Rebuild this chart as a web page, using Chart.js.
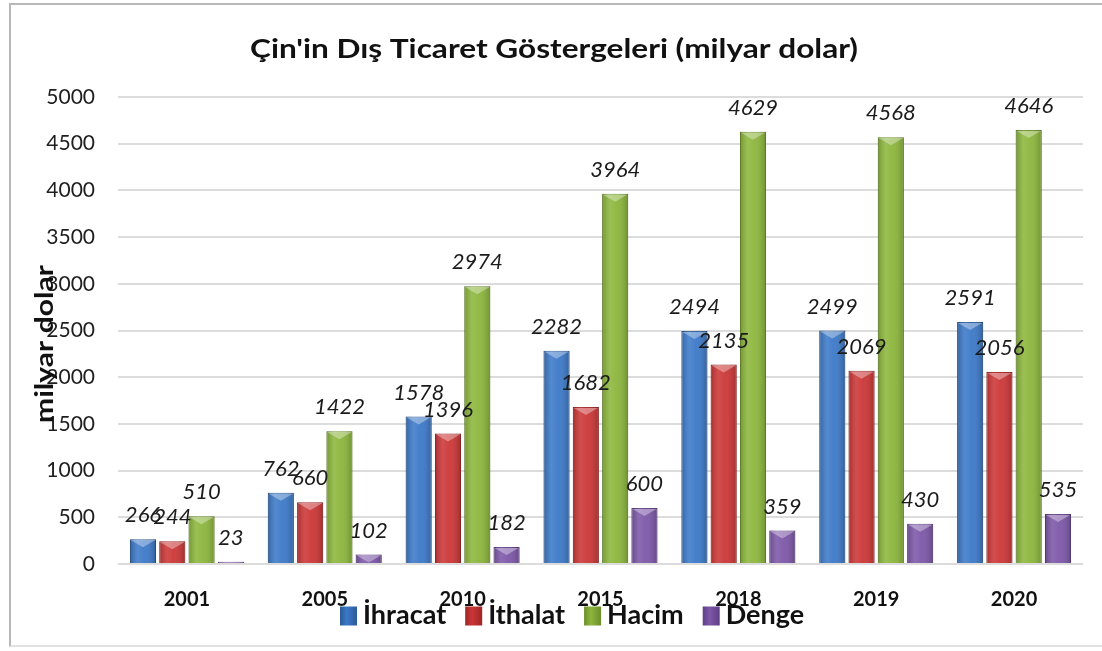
<!DOCTYPE html>
<html>
<head>
<meta charset="utf-8">
<script src="https://cdn.jsdelivr.net/npm/chart.js@4"></script>
<style>
  html, body { margin: 0; padding: 0; background: #fff; }
  #wrap { position: relative; width: 1102px; height: 651px; overflow: hidden; }
  #frame { position: absolute; left: 9px; top: 3px; width: 1110px; height: 644px; border: 2px solid #b8b8b8; border-bottom-color: #e2e2e2; box-sizing: border-box; }
  canvas { position: absolute; left: 0; top: 0; }
</style>
</head>
<body>
<div id="wrap">
  <div id="frame"></div>
  <canvas id="c" width="1102" height="651"></canvas>
</div>
<script>
const chartTitle = "Çin'in Dış Ticaret Göstergeleri (milyar dolar)";
const yAxisTitle = "milyar dolar";
const categories = ['2001', '2005', '2010', '2015', '2018', '2019', '2020'];
const seriesNames = ['İhracat', 'İthalat', 'Hacim', 'Denge'];
const ihracat = [266, 762, 1578, 2282, 2494, 2499, 2591];
const ithalat = [244, 660, 1396, 1682, 2135, 2069, 2056];
const hacim   = [510, 1422, 2974, 3964, 4629, 4568, 4646];
const denge   = [23, 102, 182, 600, 359, 430, 535];
const yMin = 0, yMax = 5000, yStep = 500;

const seriesColors = ['#3C79C8', '#CC3636', '#8CB63C', '#7D57A8'];
const seriesBorders = ['#2B5A98', '#9E2626', '#6B8E2A', '#5E3F86'];
const FONT = 'Lato, "Open Sans", "DejaVu Sans", sans-serif';

// draw text stretched along its direction so it spans the given width
function fitText(ctx, text, x, y, width) {
  const w = ctx.measureText(text).width;
  ctx.save();
  ctx.translate(x, y);
  ctx.scale(width / w, 1);
  ctx.fillText(text, 0, 0);
  ctx.restore();
}

const overlayPlugin = {
  id: 'overlay',
  afterDatasetsDraw(chart) {
    const ctx = chart.ctx;
    chart.data.datasets.forEach((ds, di) => {
      const meta = chart.getDatasetMeta(di);
      meta.data.forEach((el) => {
        const w = el.width, x0 = el.x - w / 2, top = el.y, bot = el.base;
        const h = bot - top;
        if (h <= 0) return;
        ctx.save();
        const g = ctx.createLinearGradient(x0, 0, x0 + w, 0);
        g.addColorStop(0, 'rgba(0,0,0,0.18)');
        g.addColorStop(0.3, 'rgba(255,255,255,0.12)');
        g.addColorStop(0.55, 'rgba(255,255,255,0.05)');
        g.addColorStop(1, 'rgba(0,0,0,0.20)');
        ctx.fillStyle = g;
        ctx.fillRect(x0, top, w, h);
        const bh = Math.min(8, h);
        ctx.beginPath();
        ctx.moveTo(x0 + 1, top + 1);
        ctx.lineTo(x0 + w - 1, top + 1);
        ctx.lineTo(x0 + w / 2, top + bh);
        ctx.closePath();
        ctx.fillStyle = 'rgba(255,255,255,0.35)';
        ctx.fill();
        ctx.restore();
      });
    });
    ctx.save();
    ctx.font = 'italic 22px ' + FONT;
    ctx.fillStyle = '#1b1b1b';
    ctx.textAlign = 'center';
    ctx.textBaseline = 'middle';
    chart.data.datasets.forEach((ds, di) => {
      const meta = chart.getDatasetMeta(di);
      meta.data.forEach((el, i) => {
        ctx.fillText(String(ds.data[i]), el.x, el.y - 24);
      });
    });
    ctx.restore();
  },
  afterDraw(chart) {
    const ctx = chart.ctx;
    ctx.save();
    ctx.fillStyle = '#111';
    ctx.textBaseline = 'middle';
    // title
    ctx.font = 'bold 27px ' + FONT;
    ctx.textAlign = 'center';
    fitText(ctx, chartTitle, 554, 49, 608);
    // y axis title
    ctx.save();
    ctx.translate(45, 344);
    ctx.rotate(-Math.PI / 2);
    ctx.font = 'bold 25px ' + FONT;
    fitText(ctx, yAxisTitle, 0, 0, 158);
    ctx.restore();
    // legend
    ctx.font = 'bold 27px ' + FONT;
    ctx.textAlign = 'left';
    const boxW = 17, boxH = 19, gapBT = 6, gapItems = 19;
    let x = 340;
    const cy = 614;
    seriesNames.forEach((n, i) => {
      const g = ctx.createLinearGradient(x, 0, x + boxW, 0);
      g.addColorStop(0, seriesBorders[i]);
      g.addColorStop(0.4, seriesColors[i]);
      g.addColorStop(1, seriesBorders[i]);
      ctx.fillStyle = g;
      ctx.fillRect(x, cy - boxH / 2 + 2, boxW, boxH);
      ctx.fillStyle = '#111';
      ctx.fillText(n, x + boxW + gapBT, cy + 1);
      x += boxW + gapBT + ctx.measureText(n).width + gapItems;
    });
    ctx.restore();
  }
};

const seriesData = [ihracat, ithalat, hacim, denge];
const chart = new Chart(document.getElementById('c'), {
  type: 'bar',
  data: {
    labels: categories,
    datasets: seriesNames.map((name, i) => ({
      label: name,
      data: seriesData[i],
      backgroundColor: seriesColors[i],
      borderColor: seriesBorders[i],
      borderWidth: 1,
      barPercentage: 0.89,
      categoryPercentage: 0.85
    }))
  },
  options: {
    responsive: false,
    animation: false,
    devicePixelRatio: 1,
    layout: { padding: { left: 0, top: 97, right: 19, bottom: 0 } },
    plugins: {
      legend: { display: false },
      title: { display: false },
      tooltip: { enabled: false }
    },
    scales: {
      x: {
        afterFit(scale) { scale.height = 87; },
        grid: { display: false, drawTicks: false },
        border: { display: false },
        ticks: { padding: 24, color: '#111', font: { family: FONT, size: 20, weight: 'bold' } }
      },
      y: {
        min: yMin, max: yMax,
        afterFit(scale) { scale.width = 118; },
        grid: { color: '#dcdcdc', lineWidth: 2, drawTicks: false },
        border: { display: false },
        ticks: {
          stepSize: yStep, padding: 23, color: '#1e1e1e',
          font: { family: FONT, size: 21 },
          callback: (v) => String(v)
        }
      }
    }
  },
  plugins: [overlayPlugin]
});
</script>
</body>
</html>
